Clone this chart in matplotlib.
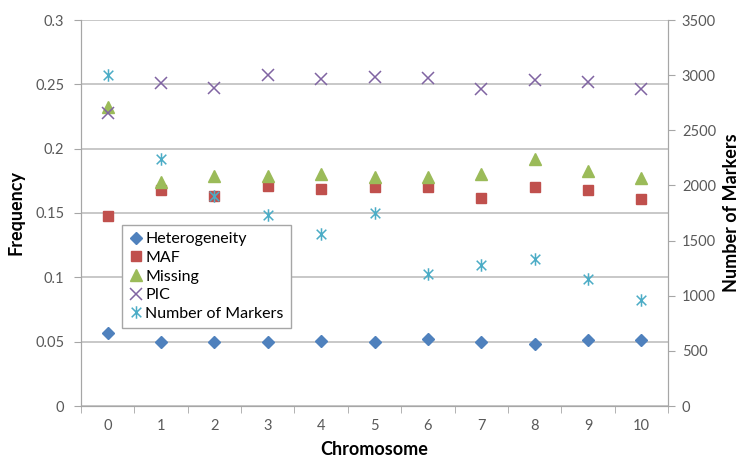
import numpy as np
import matplotlib
matplotlib.use("Agg")
import matplotlib.pyplot as plt
from matplotlib.path import Path

plt.rcParams['font.family'] = ['Lato', 'DejaVu Sans']

# -----------------------------
# Data
# -----------------------------
chromosomes = [0, 1, 2, 3, 4, 5, 6, 7, 8, 9, 10]
heterogeneity = [0.057, 0.050, 0.050, 0.050, 0.0505, 0.050, 0.052, 0.050, 0.048, 0.051, 0.051]
maf = [0.148, 0.168, 0.163, 0.171, 0.169, 0.170, 0.170, 0.162, 0.170, 0.168, 0.161]
missing = [0.232, 0.174, 0.179, 0.179, 0.180, 0.178, 0.178, 0.180, 0.192, 0.183, 0.177]
pic = [0.228, 0.251, 0.247, 0.257, 0.254, 0.256, 0.255, 0.246, 0.253, 0.252, 0.246]
n_markers = [3000, 2240, 1905, 1732, 1560, 1750, 1197, 1278, 1333, 1151, 963]

left_ticks = [0, 0.05, 0.1, 0.15, 0.2, 0.25, 0.3]
right_ticks = [0, 500, 1000, 1500, 2000, 2500, 3000, 3500]

# -----------------------------
# Styles
# -----------------------------
c_het = '#4F81BD'
c_maf = '#C0504D'
c_mis = '#9BBB59'
c_pic = '#8064A2'
c_num = '#4BACC6'
tick_col = '#595959'
grid_col = '#BFBFBF'

# Excel-like star: X plus vertical bar
star = Path([(-1, -1), (1, 1), (-1, 1), (1, -1), (0, -1.3), (0, 1.3)],
            [Path.MOVETO, Path.LINETO, Path.MOVETO, Path.LINETO, Path.MOVETO, Path.LINETO])

fig = plt.figure(figsize=(7.41, 4.58), dpi=100)
ax = fig.add_axes([81/741, 1 - 406/458, (668-81)/741, (406-20)/458])
ax2 = ax.twinx()

x = np.arange(len(chromosomes))

h1, = ax.plot(x, heterogeneity, linestyle='none', marker='D', ms=6.5, color=c_het, label='Heterogeneity')
h2, = ax.plot(x, maf, linestyle='none', marker='s', ms=7.5, color=c_maf, label='MAF')
h3, = ax.plot(x, missing, linestyle='none', marker='^', ms=9, color=c_mis, label='Missing')
h4, = ax.plot(x, pic, linestyle='none', marker='x', ms=9, mew=1.1, color=c_pic, label='PIC')
h5, = ax2.plot(x, n_markers, linestyle='none', marker=star, ms=9, mew=1.1, color=c_num, label='Number of Markers')

# -----------------------------
# Axes
# -----------------------------
ax.set_xlim(-0.5, len(x) - 0.5)
ax.set_ylim(0, 0.3)
ax2.set_ylim(0, 3500)

ax.set_yticks(left_ticks)
ax.set_yticklabels([f"{t:g}" for t in left_ticks])
ax2.set_yticks(right_ticks)

ax.set_xticks(x)
ax.set_xticklabels([str(c) for c in chromosomes])
ax.set_xticks(np.arange(-0.5, len(x)), minor=True)
ax.tick_params(axis='x', which='major', length=0, pad=9, labelsize=10.5, labelcolor=tick_col)
ax.tick_params(axis='x', which='minor', length=5, color='#A6A6A6', direction='out')
ax.tick_params(axis='y', length=5, color='#A6A6A6', labelsize=10.5, labelcolor=tick_col, pad=7)
ax2.tick_params(axis='y', length=5, color='#A6A6A6', labelsize=10.5, labelcolor=tick_col, pad=5)

ax.yaxis.grid(True, color=grid_col, linewidth=1.2)
ax.set_axisbelow(True)

for a in (ax, ax2):
    a.spines['top'].set_visible(False)
    for s in ('left', 'right', 'bottom'):
        a.spines[s].set_color('#A6A6A6')

ax.set_xlabel('Chromosome', fontsize=13, fontweight='bold', labelpad=6)
ax.set_ylabel('Frequency', fontsize=13, fontweight='bold', labelpad=8)
ax2.set_ylabel('Number of Markers', fontsize=13, fontweight='bold', labelpad=5)

# -----------------------------
# Legend
# -----------------------------
leg = ax2.legend(handles=[h1, h2, h3, h4, h5], loc='upper left',
                 bbox_to_anchor=(122/741, 1 - 225/458), bbox_transform=fig.transFigure,
                 borderaxespad=0, fontsize=11.5, frameon=True, fancybox=False, framealpha=1,
                 handlelength=0.8, handletextpad=0.2, borderpad=0.45, labelspacing=0.28)
leg.get_frame().set_edgecolor('#A6A6A6')
leg.get_frame().set_linewidth(1.0)

fig.savefig('out.png', dpi=100)
